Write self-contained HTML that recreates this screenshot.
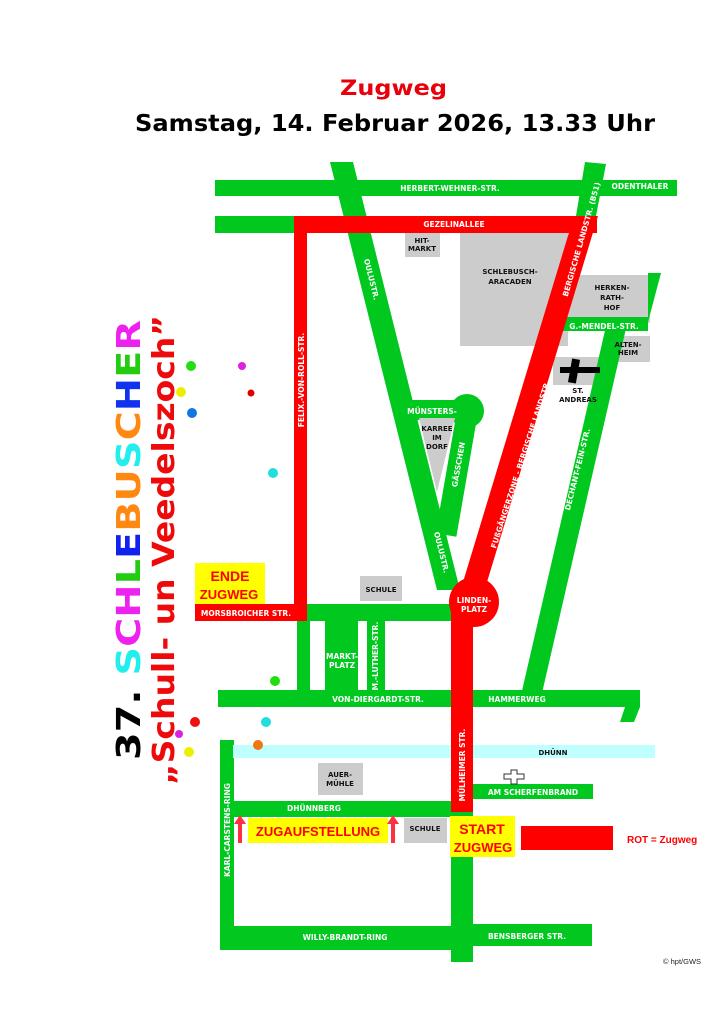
<!DOCTYPE html>
<html><head><meta charset="utf-8"><style>
html,body{margin:0;padding:0;background:#fff;}
svg{display:block;}
.w{fill:#fff;font-family:"DejaVu Sans","Liberation Sans",sans-serif;font-weight:bold;font-size:7.5px;}
.k{fill:#111;font-family:"DejaVu Sans","Liberation Sans",sans-serif;font-weight:bold;font-size:7px;}
</style></head><body>
<svg width="728" height="1030" viewBox="0 0 728 1030" xmlns="http://www.w3.org/2000/svg">
<rect width="728" height="1030" fill="#fff"/>
<text x="340" y="95" textLength="107" lengthAdjust="spacingAndGlyphs" font-family="DejaVu Sans,sans-serif" font-weight="bold" font-size="21" fill="#e8000a">Zugweg</text>
<text x="135" y="131" textLength="520" lengthAdjust="spacingAndGlyphs" font-family="DejaVu Sans,sans-serif" font-weight="bold" font-size="23" fill="#000">Samstag, 14. Februar 2026, 13.33 Uhr</text>

<!-- buildings -->
<rect x="460" y="233" width="108" height="113" fill="#cccccc"/>
<rect x="405" y="233" width="35" height="24" fill="#cccccc"/>
<rect x="568" y="275" width="82" height="48" fill="#cccccc"/>
<rect x="606" y="336" width="44" height="26" fill="#cccccc"/>
<rect x="553" y="357" width="52" height="28" fill="#cccccc"/>
<rect x="360" y="576" width="42" height="25" fill="#cccccc"/>
<rect x="318" y="763" width="45" height="32" fill="#cccccc"/>
<rect x="404" y="818" width="43" height="25" fill="#cccccc"/>

<!-- green roads -->
<g fill="#00c81e" stroke="none">
<rect x="215" y="180" width="462" height="16"/>
<rect x="215" y="216" width="80" height="17"/>
<polygon points="648,273 661,273 648,322"/>
<rect x="560" y="317" width="88" height="14"/>
<rect x="307" y="604" width="148" height="17"/>
<rect x="297" y="621" width="13" height="70"/>
<rect x="325" y="621" width="33" height="70"/>
<rect x="367" y="621" width="18" height="70"/>
<rect x="218" y="690" width="422" height="17"/>
<polygon points="625,707 640,707 634,722 620,722"/>
<rect x="220" y="740" width="14" height="210"/>
<rect x="220" y="926" width="231" height="24"/>
<rect x="473" y="924" width="119" height="22"/>
<rect x="234" y="801" width="217" height="16"/>
<rect x="473" y="784" width="120" height="15"/>
<rect x="451" y="812" width="22" height="150"/>
<circle cx="467" cy="411" r="17"/>
<rect x="400" y="400" width="66" height="20"/>
<polygon points="330,162 353,162 460,590 437,590"/>
<polygon points="585,162 606,164 596,216 576,216"/>
</g>
<g stroke="#00c81e" stroke-linecap="butt" fill="none">
<line x1="466" y1="420" x2="446" y2="535" stroke-width="21"/>
<line x1="617" y1="323" x2="532" y2="692" stroke-width="20"/>
</g>
<polygon points="419,418 455,418 437,492" fill="#cccccc"/>
<rect x="233" y="745" width="422" height="13" fill="#bfffff"/>

<!-- red route -->
<g fill="#ff0000">
<rect x="294" y="216" width="303" height="17"/>
<rect x="294" y="216" width="13" height="405"/>
<rect x="195" y="604" width="112" height="17"/>
<rect x="451" y="600" width="22" height="212"/>
<circle cx="474" cy="602" r="25"/>
<rect x="521" y="826" width="92" height="24"/>
<polygon points="574,216 598,216 484,592 460,592"/>
</g>

<!-- cross -->
<rect x="560" y="367" width="40" height="6" fill="#000"/>
<rect x="570" y="359" width="8" height="24" fill="#000" transform="rotate(10 574 371)"/>
<path d="M511 770h6v4h7v5h-7v5h-6v-5h-7v-5h7z" fill="#fff" stroke="#333" stroke-width="1"/>

<!-- yellow boxes -->
<rect x="195" y="563" width="70" height="41" fill="#ffff00"/>
<text x="230" y="581" text-anchor="middle" font-family="Liberation Sans,sans-serif" font-weight="bold" font-size="14" fill="#ff0000">ENDE</text>
<text x="229" y="599" text-anchor="middle" font-family="Liberation Sans,sans-serif" font-weight="bold" font-size="13" fill="#ff0000">ZUGWEG</text>
<rect x="248" y="818" width="140" height="25" fill="#ffff00"/>
<text x="318" y="836" text-anchor="middle" font-family="Liberation Sans,sans-serif" font-weight="bold" font-size="13" fill="#ff0000">ZUGAUFSTELLUNG</text>
<rect x="450" y="816" width="65" height="41" fill="#ffff00"/>
<text x="482" y="834" text-anchor="middle" font-family="Liberation Sans,sans-serif" font-weight="bold" font-size="14" fill="#ff0000">START</text>
<text x="483" y="852" text-anchor="middle" font-family="Liberation Sans,sans-serif" font-weight="bold" font-size="13" fill="#ff0000">ZUGWEG</text>
<g fill="#ff3040">
<rect x="238" y="823" width="4" height="20"/><polygon points="234,824 240,815 246,824"/>
<rect x="391" y="823" width="4" height="20"/><polygon points="387,824 393,815 399,824"/>
</g>
<text x="627" y="843" font-family="Liberation Sans,sans-serif" font-weight="bold" font-size="10" fill="#ff0000">ROT = Zugweg</text>
<text x="663" y="964" font-family="Liberation Sans,sans-serif" font-size="7.5" fill="#222">© hpt/GWS</text>

<!-- labels -->
<text class="w" x="450" y="191" text-anchor="middle">HERBERT-WEHNER-STR.</text>
<text class="w" x="640" y="189" text-anchor="middle">ODENTHALER</text>
<text class="w" x="454" y="227" text-anchor="middle">GEZELINALLEE</text>
<text class="w" x="604" y="329" text-anchor="middle">G.-MENDEL-STR.</text>
<text class="w" x="246" y="616" text-anchor="middle" font-size="7">MORSBROICHER STR.</text>
<text class="w" x="378" y="702" text-anchor="middle">VON-DIERGARDT-STR.</text>
<text class="w" x="517" y="702" text-anchor="middle">HAMMERWEG</text>
<text class="w" x="342" y="659" text-anchor="middle">MARKT-</text>
<text class="w" x="342" y="668" text-anchor="middle">PLATZ</text>
<text class="w" x="474" y="603" text-anchor="middle">LINDEN-</text>
<text class="w" x="474" y="612" text-anchor="middle">PLATZ</text>
<text class="w" x="432" y="414" text-anchor="middle">MÜNSTERS-</text>
<text class="w" x="314" y="811" text-anchor="middle" font-size="7">DHÜNNBERG</text>
<text class="w" x="533" y="795" text-anchor="middle">AM SCHERFENBRAND</text>
<text class="w" x="345" y="940" text-anchor="middle">WILLY-BRANDT-RING</text>
<text class="w" x="527" y="939" text-anchor="middle">BENSBERGER STR.</text>
<text class="w" transform="translate(304,380) rotate(-90)" text-anchor="middle">FELIX.-VON-ROLL-STR.</text>
<text class="w" transform="translate(369,280) rotate(76)" text-anchor="middle">OULUSTR.</text>
<text class="w" transform="translate(439,553) rotate(76)" text-anchor="middle">OULUSTR.</text>
<text class="w" transform="translate(461,465) rotate(-80)" text-anchor="middle">GÄSSCHEN</text>
<text class="w" transform="translate(378,656) rotate(-90)" text-anchor="middle" font-size="6.5">M.-LUTHER-STR.</text>
<text class="w" transform="translate(230,830) rotate(-90)" text-anchor="middle">KARL-CARSTENS-RING</text>
<text class="w" transform="translate(465,765) rotate(-90)" text-anchor="middle">MÜLHEIMER STR.</text>
<text class="w" transform="translate(523,465) rotate(-72)" text-anchor="middle">FUßGÄNGERZONE - BERGISCHE LANDSTR.</text>
<text class="w" transform="translate(584,240) rotate(-74)" text-anchor="middle">BERGISCHE LANDSTR. (B51)</text>
<text class="w" transform="translate(580,470) rotate(-76)" text-anchor="middle">DECHANT-FEIN-STR.</text>
<text class="k" x="553" y="755" text-anchor="middle" font-size="7.5">DHÜNN</text>
<text class="k" x="422" y="243" text-anchor="middle" font-size="6">HIT-</text>
<text class="k" x="422" y="251" text-anchor="middle" font-size="6">MARKT</text>
<text class="k" x="510" y="274" text-anchor="middle" font-size="8">SCHLEBUSCH-</text>
<text class="k" x="510" y="284" text-anchor="middle" font-size="8">ARACADEN</text>
<text class="k" x="612" y="290" text-anchor="middle" font-size="8">HERKEN-</text>
<text class="k" x="612" y="300" text-anchor="middle" font-size="8">RATH-</text>
<text class="k" x="612" y="310" text-anchor="middle" font-size="8">HOF</text>
<text class="k" x="628" y="347" text-anchor="middle" font-size="6">ALTEN-</text>
<text class="k" x="628" y="355" text-anchor="middle" font-size="6">HEIM</text>
<text class="k" x="578" y="393" text-anchor="middle" font-size="6">ST.</text>
<text class="k" x="578" y="402" text-anchor="middle" font-size="6">ANDREAS</text>
<text class="k" x="437" y="431" text-anchor="middle" font-size="6">KARREE</text>
<text class="k" x="437" y="440" text-anchor="middle" font-size="6">IM</text>
<text class="k" x="437" y="449" text-anchor="middle" font-size="6">DORF</text>
<text class="k" x="381" y="592" text-anchor="middle" font-size="6">SCHULE</text>
<text class="k" x="425" y="831" text-anchor="middle" font-size="6">SCHULE</text>
<text class="k" x="340" y="777" text-anchor="middle" font-size="6">AUER-</text>
<text class="k" x="340" y="786" text-anchor="middle" font-size="6">MÜHLE</text>

<!-- dots -->
<circle cx="191" cy="366" r="5" fill="#22dd11"/>
<circle cx="242" cy="366" r="4" fill="#dd22dd"/>
<circle cx="181" cy="392" r="5" fill="#eeee00"/>
<circle cx="251" cy="393" r="3.5" fill="#dd0000"/>
<circle cx="192" cy="413" r="5" fill="#1177dd"/>
<circle cx="273" cy="473" r="5" fill="#22dddd"/>
<circle cx="275" cy="681" r="5" fill="#22dd11"/>
<circle cx="195" cy="722" r="5" fill="#ee1111"/>
<circle cx="266" cy="722" r="5" fill="#22dddd"/>
<circle cx="179" cy="734" r="4" fill="#dd22dd"/>
<circle cx="189" cy="752" r="5" fill="#eeee00"/>
<circle cx="258" cy="745" r="5" fill="#ee7711"/>

<!-- vertical title -->
<text transform="translate(140,760) rotate(-90)" textLength="440" lengthAdjust="spacingAndGlyphs" font-family="DejaVu Sans,sans-serif" font-weight="bold" font-size="33"><tspan fill="#000">37. </tspan><tspan fill="#22eeee">S</tspan><tspan fill="#ee22ee">C</tspan><tspan fill="#ee22ee">H</tspan><tspan fill="#22cc11">L</tspan><tspan fill="#1122ee">E</tspan><tspan fill="#ff8811">B</tspan><tspan fill="#ff8811">U</tspan><tspan fill="#22eeee">S</tspan><tspan fill="#ff8811">C</tspan><tspan fill="#1133ee">H</tspan><tspan fill="#22cc11">E</tspan><tspan fill="#ee22ee">R</tspan></text>
<text transform="translate(174,785) rotate(-90)" textLength="470" lengthAdjust="spacingAndGlyphs" font-family="DejaVu Sans,sans-serif" font-weight="bold" font-size="30" fill="#ee0a0a">„Schull- un Veedelszoch”</text>
</svg>
</body></html>
